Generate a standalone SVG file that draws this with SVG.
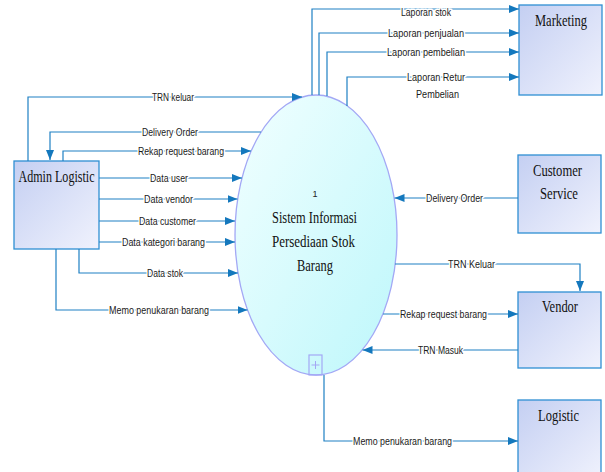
<svg xmlns="http://www.w3.org/2000/svg" width="605" height="472" viewBox="0 0 605 472">
<style>
.bg{fill:#ffffff}
.box{fill:url(#boxg);stroke:#2f8fd3;stroke-width:1.3}
.proc{fill:url(#procg);stroke:#a3a8f5;stroke-width:1.3}
.nt{font-family:"Liberation Serif",serif;font-size:17px;fill:#111;text-anchor:middle}
.c{fill:none;stroke:#1f80c3;stroke-width:1.2}
.lbl{font-family:"Liberation Sans",Arial,sans-serif;font-size:10px;fill:#1a1a1a;text-anchor:middle;stroke:#fff;stroke-width:3px;paint-order:stroke;stroke-linejoin:round}
</style>
<defs>
<linearGradient id="boxg" x1="0" y1="0" x2="1" y2="1">
<stop offset="0" stop-color="#c4cff2"/>
<stop offset="1" stop-color="#f0f2fd"/>
</linearGradient>
<linearGradient id="procg" x1="0" y1="0" x2="1" y2="1">
<stop offset="0" stop-color="#f2ffff"/>
<stop offset="1" stop-color="#bdf7fb"/>
</linearGradient>
<marker id="ar" markerUnits="userSpaceOnUse" markerWidth="11" markerHeight="9" refX="10" refY="4" orient="auto">
<path d="M0,0 L10,4 L0,8 Z" fill="#1478bd"/>
</marker>
</defs>
<rect class="bg" x="0" y="0" width="605" height="472"/>

<g id="proc1">
<ellipse class="proc" cx="316" cy="235" rx="81" ry="140"/>
<rect x="309" y="355" width="13" height="20" fill="none" stroke="#a3a8f5" stroke-width="1.2"/>
<path d="M315.5,361 v8 M311.5,365 h8" stroke="#a3a8f5" stroke-width="1"/>
<text x="315" y="197" font-family="Liberation Sans,Arial,sans-serif" font-size="9" fill="#222" text-anchor="middle">1</text>
<text class="nt" x="314.5" y="223" textLength="85" lengthAdjust="spacingAndGlyphs">Sistem Informasi</text>
<text class="nt" x="313.5" y="247" textLength="83" lengthAdjust="spacingAndGlyphs">Persediaan Stok</text>
<text class="nt" x="315" y="271" textLength="36" lengthAdjust="spacingAndGlyphs">Barang</text>
</g>

<g id="admin">
<rect class="box" x="14" y="161" width="85" height="88"/>
<text class="nt" x="56.5" y="182" textLength="76" lengthAdjust="spacingAndGlyphs">Admin Logistic</text>
</g>
<g id="marketing">
<rect class="box" x="519" y="5" width="83" height="90"/>
<text class="nt" x="561" y="26" textLength="52" lengthAdjust="spacingAndGlyphs">Marketing</text>
</g>
<g id="cs">
<rect class="box" x="518" y="155" width="83" height="78"/>
<text class="nt" x="557.5" y="176" textLength="49" lengthAdjust="spacingAndGlyphs">Customer</text>
<text class="nt" x="559" y="199" textLength="38" lengthAdjust="spacingAndGlyphs">Service</text>
</g>
<g id="vendor">
<rect class="box" x="518" y="292" width="83" height="76"/>
<text class="nt" x="560" y="312" textLength="36" lengthAdjust="spacingAndGlyphs">Vendor</text>
</g>
<g id="logistic">
<rect class="box" x="518" y="400" width="83" height="80"/>
<text class="nt" x="558.5" y="421" textLength="41" lengthAdjust="spacingAndGlyphs">Logistic</text>
</g>

<g id="connectors">
<path class="c" d="M28,161 V97 H302" marker-end="url(#ar)"/>
<path class="c" d="M261,132 H50 V160" marker-end="url(#ar)"/>
<path class="c" d="M63,161 V151 H251" marker-end="url(#ar)"/>
<path class="c" d="M99,178 H242" marker-end="url(#ar)"/>
<path class="c" d="M99,199 H237.5" marker-end="url(#ar)"/>
<path class="c" d="M99,221 H235" marker-end="url(#ar)"/>
<path class="c" d="M99,242 H235" marker-end="url(#ar)"/>
<path class="c" d="M79,249 V273 H238" marker-end="url(#ar)"/>
<path class="c" d="M56,249 V310 H247.5" marker-end="url(#ar)"/>

<path class="c" d="M312,95 V9 H519" marker-end="url(#ar)"/>
<path class="c" d="M319,95 V33 H519" marker-end="url(#ar)"/>
<path class="c" d="M327,96 V52 H519" marker-end="url(#ar)"/>
<path class="c" d="M347,106 V77 H519" marker-end="url(#ar)"/>

<path class="c" d="M518,198 H394.5" marker-end="url(#ar)"/>
<path class="c" d="M395,264 H580 V291" marker-end="url(#ar)"/>
<path class="c" d="M383,314 H518" marker-end="url(#ar)"/>
<path class="c" d="M518,350 H362.5" marker-end="url(#ar)"/>
<path class="c" d="M324,375 V441 H518" marker-end="url(#ar)"/>

<text class="lbl" x="173" y="100.5" textLength="42" lengthAdjust="spacingAndGlyphs">TRN keluar</text>
<text class="lbl" x="170" y="135.5" textLength="56" lengthAdjust="spacingAndGlyphs">Delivery Order</text>
<text class="lbl" x="181" y="154.5" textLength="86" lengthAdjust="spacingAndGlyphs">Rekap request barang</text>
<text class="lbl" x="169" y="181.5" textLength="38" lengthAdjust="spacingAndGlyphs">Data user</text>
<text class="lbl" x="168.5" y="202.5" textLength="49" lengthAdjust="spacingAndGlyphs">Data vendor</text>
<text class="lbl" x="167.5" y="224.5" textLength="57" lengthAdjust="spacingAndGlyphs">Data customer</text>
<text class="lbl" x="163.5" y="245.5" textLength="83" lengthAdjust="spacingAndGlyphs">Data kategori barang</text>
<text class="lbl" x="165" y="276.5" textLength="36" lengthAdjust="spacingAndGlyphs">Data stok</text>
<text class="lbl" x="159" y="313.5" textLength="100" lengthAdjust="spacingAndGlyphs">Memo penukaran barang</text>

<text class="lbl" x="426" y="15.5" textLength="50" lengthAdjust="spacingAndGlyphs">Laporan stok</text>
<text class="lbl" x="426" y="36.5" textLength="76" lengthAdjust="spacingAndGlyphs">Laporan penjualan</text>
<text class="lbl" x="426" y="55.5" textLength="78" lengthAdjust="spacingAndGlyphs">Laporan pembelian</text>
<text class="lbl" x="436" y="81" textLength="58" lengthAdjust="spacingAndGlyphs">Laporan Retur</text>
<text class="lbl" x="437.5" y="97.5" textLength="43" lengthAdjust="spacingAndGlyphs">Pembelian</text>

<text class="lbl" x="454.5" y="201.5" textLength="57" lengthAdjust="spacingAndGlyphs">Delivery Order</text>
<text class="lbl" x="471.5" y="267.5" textLength="47" lengthAdjust="spacingAndGlyphs">TRN Keluar</text>
<text class="lbl" x="443.5" y="317.5" textLength="87" lengthAdjust="spacingAndGlyphs">Rekap request barang</text>
<text class="lbl" x="440.5" y="353.5" textLength="45" lengthAdjust="spacingAndGlyphs">TRN Masuk</text>
<text class="lbl" x="402.5" y="444.5" textLength="99" lengthAdjust="spacingAndGlyphs">Memo penukaran barang</text>
</g>
</svg>
